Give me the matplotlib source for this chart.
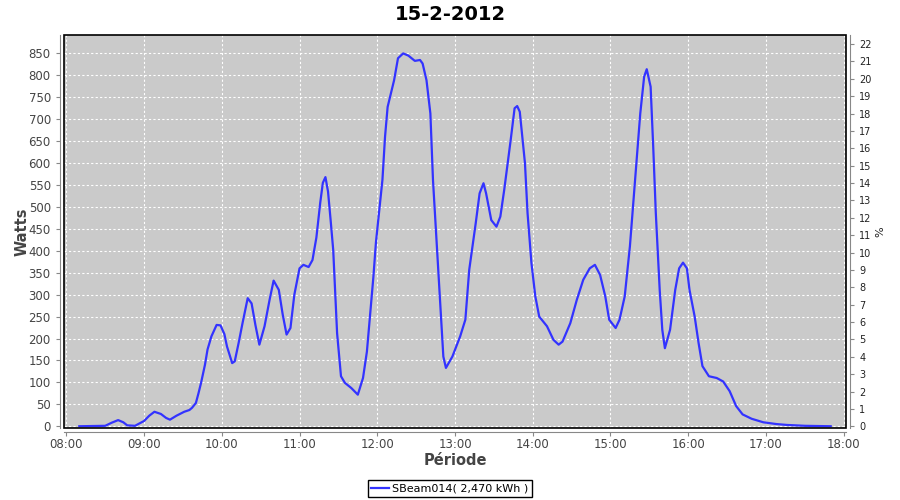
import pandas as pd
import matplotlib
matplotlib.use("Agg")
import matplotlib.pyplot as plt
import matplotlib.dates as mdates
from matplotlib.patches import Rectangle

# Readings of the SBeam014 inverter on 15-2-2012 (time, watts)
times = [
    "08:10", "08:30", "08:35", "08:40", "08:44", "08:47", "08:53", "09:00",
    "09:04", "09:08", "09:13", "09:17", "09:20", "09:25", "09:31", "09:35",
    "09:37", "09:40", "09:42", "09:44", "09:47", "09:49", "09:52", "09:56",
    "09:59", "10:02", "10:04", "10:08", "10:10", "10:13", "10:16", "10:20",
    "10:23", "10:26", "10:29", "10:33", "10:37", "10:40", "10:44", "10:47",
    "10:50", "10:53", "10:56", "11:00", "11:03", "11:07", "11:10", "11:13",
    "11:16", "11:18", "11:20", "11:22", "11:24", "11:26", "11:29", "11:32",
    "11:35", "11:40", "11:45", "11:49", "11:52", "11:57", "11:59", "12:04",
    "12:06", "12:08", "12:13", "12:16", "12:20", "12:24", "12:29", "12:33",
    "12:35", "12:38", "12:41", "12:43", "12:46", "12:49", "12:51", "12:53",
    "12:58", "13:04", "13:08", "13:11", "13:16", "13:19", "13:22", "13:24",
    "13:28", "13:32", "13:35", "13:38", "13:43", "13:46", "13:48", "13:50",
    "13:54", "13:56", "13:59", "14:02", "14:05", "14:11", "14:16", "14:20",
    "14:23", "14:29", "14:34", "14:39", "14:44", "14:48", "14:52", "14:56",
    "14:59", "15:04", "15:07", "15:11", "15:15", "15:19", "15:23", "15:26",
    "15:28", "15:31", "15:33", "15:35", "15:38", "15:40", "15:42", "15:46",
    "15:50", "15:53", "15:56", "15:59", "16:01", "16:05", "16:08", "16:11",
    "16:16", "16:22", "16:27", "16:32", "16:37", "16:42", "16:49", "16:58",
    "17:08", "17:16", "17:30", "17:50",
]
watts = [
    0, 1, 8, 14, 9, 2, 1, 12,
    24, 33, 28, 19, 15, 24, 33, 37,
    42, 53, 75, 99, 140, 175, 205, 231,
    230, 210, 182, 144, 148, 190, 235, 292,
    280, 230, 186, 228, 290, 332, 311, 255,
    209, 224, 300, 360, 368, 363, 379, 430,
    510, 555, 568, 535, 470, 402, 212, 114,
    99, 87, 72, 110, 170, 340, 420, 562,
    660, 728, 789, 839, 850, 845, 833, 835,
    827, 789, 713, 562, 410, 258, 159, 133,
    159, 205, 243, 357, 463, 531, 554, 531,
    470, 455, 478, 539, 653, 725, 730, 717,
    600, 486, 372, 296, 250, 228, 197, 186,
    193, 235, 288, 334, 360, 368, 345, 296,
    243, 224, 243, 296, 410, 562, 713, 797,
    814, 774, 637, 486, 311, 220, 178, 220,
    311, 360, 373, 360, 311, 250, 190, 137,
    114, 110, 102, 80, 46, 27, 17, 9,
    5, 3, 1, 0,
]
series_label = "SBeam014( 2,470 kWh )"
title = "15-2-2012"
pct_ticks = list(range(0, 23))
watts_per_pct = 39.6

day = "2012-02-15 "
t = pd.to_datetime([day + s for s in times])

fig = plt.figure(figsize=(9, 5), dpi=100)
ax = fig.add_axes([0.0711, 0.144, 0.8689, 0.786])
ax.set_facecolor("#cacaca")

ax.plot(t, watts, color="#3333ff", linewidth=1.6, label=series_label)

x0 = pd.Timestamp(day + "08:00") - pd.Timedelta(minutes=1.8)
x1 = pd.Timestamp(day + "18:00") + pd.Timedelta(minutes=1.8)
ax.set_xlim(x0, x1)
ax.set_ylim(-4, 892)
ax.set_yticks(range(0, 851, 50))
ax.xaxis.set_major_locator(mdates.HourLocator())
ax.xaxis.set_major_formatter(mdates.DateFormatter("%H:%M"))

ax.grid(True, color="white", linestyle=(0, (2, 2)), linewidth=0.8)
ax.set_axisbelow(True)

# black frame round the plot area, axis lines set slightly outside it
ax.add_patch(Rectangle((0, 0), 1, 1, transform=ax.transAxes, fill=False,
                       edgecolor="black", linewidth=1.2, zorder=5, clip_on=False))
for side in ["top", "right"]:
    ax.spines[side].set_visible(False)
for side in ["left", "bottom"]:
    ax.spines[side].set_position(("outward", 3))
    ax.spines[side].set_color("#888888")

ax.tick_params(axis="both", colors="#888888", labelcolor="#444444",
               labelsize=8.5, length=3, direction="out")
ax.tick_params(axis="x", pad=1.5)

ax.set_ylabel("Watts", fontsize=10.5, fontweight="bold", color="#444444", labelpad=-1)
ax.set_xlabel("Période", fontsize=10.5, fontweight="bold", color="#444444", labelpad=1)

ax2 = ax.twinx()
ax2.set_ylim(-4 / watts_per_pct, 892 / watts_per_pct)
ax2.set_yticks(pct_ticks)
for side in ["top", "left", "bottom"]:
    ax2.spines[side].set_visible(False)
ax2.spines["right"].set_position(("outward", 3))
ax2.spines["right"].set_color("#888888")
ax2.tick_params(axis="y", colors="#888888", labelcolor="#222222",
                labelsize=7, length=3, direction="out")
ax2.set_ylabel("%", fontsize=8, color="#222222", labelpad=3)

fig.suptitle(title, fontsize=14, fontweight="bold", y=0.99)

fig.legend(loc="lower center", bbox_to_anchor=(0.5, -0.005), fontsize=8,
           frameon=True, fancybox=False, edgecolor="black", framealpha=1,
           handlelength=1.6, borderpad=0.3, handletextpad=0.3)

fig.savefig("out.png", dpi=100)
